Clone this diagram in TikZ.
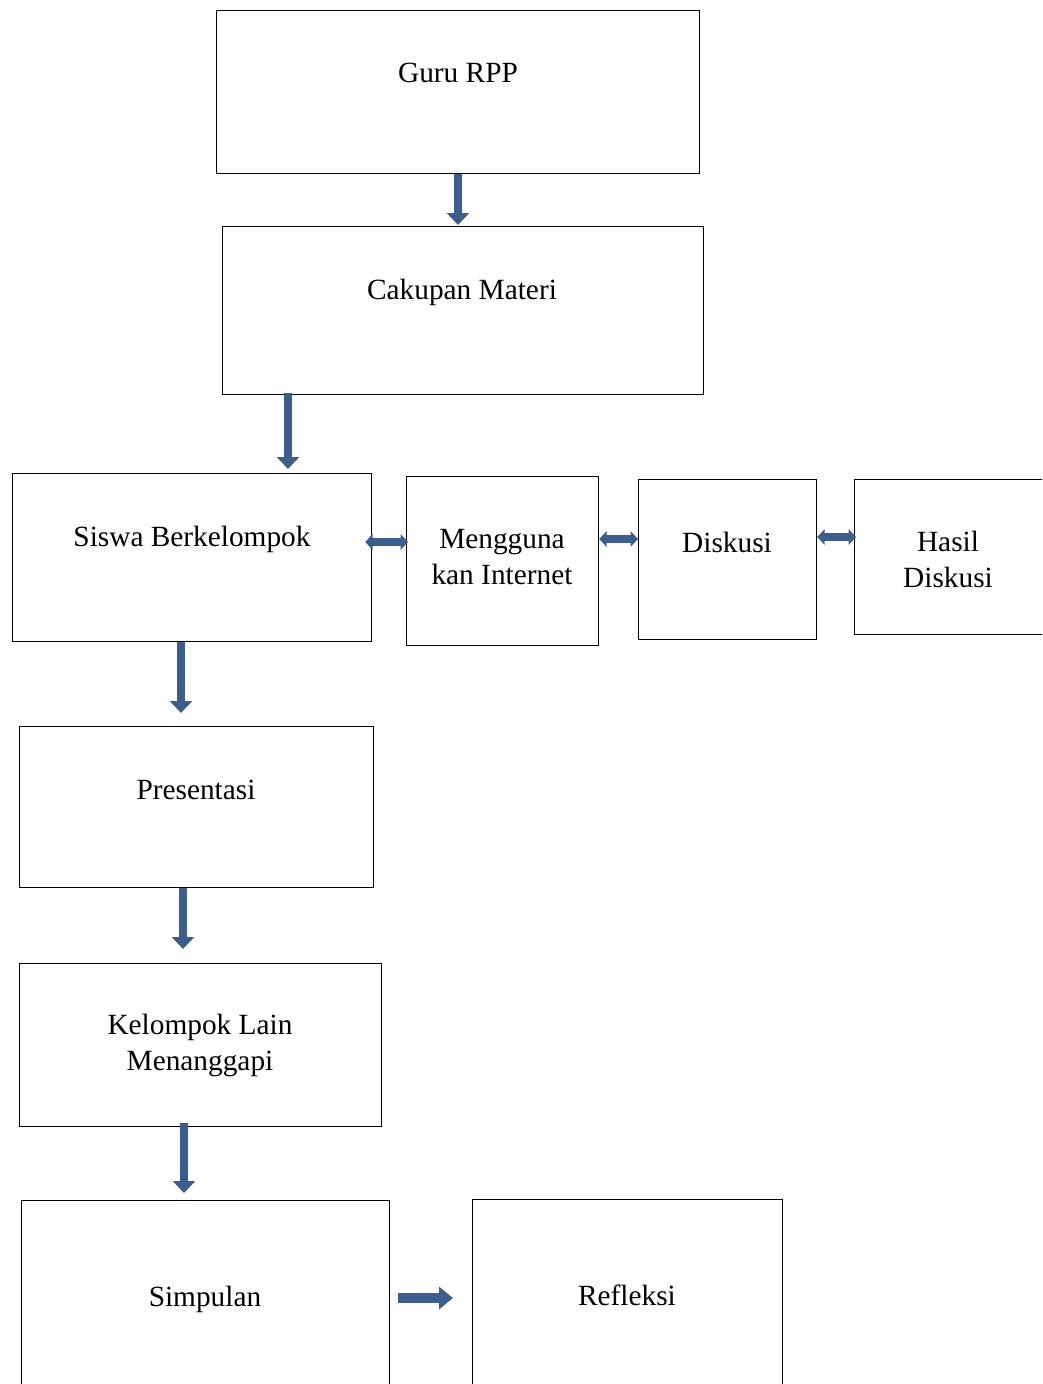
\documentclass[tikz,border=0pt]{standalone}
\usepackage{fontspec}
\setmainfont{Liberation Serif}
\usetikzlibrary{arrows.meta,calc}
\definecolor{arrblue}{RGB}{59,94,141}
\begin{document}
\begin{tikzpicture}[x=0.75pt,y=-0.75pt,
  box/.style={draw=black,line width=0.9pt,inner sep=0pt,anchor=north west},
  txt/.style={font=\fontsize{22}{27}\selectfont,align=center,anchor=base,inner sep=0pt},
  downarrow/.style={draw=arrblue,line width=6pt,-{Triangle[width=16.5pt,length=9pt]}},
  rightarrow/.style={draw=arrblue,line width=7.5pt,-{Triangle[width=16.5pt,length=10.5pt]}},
  dblarrow/.style={draw=arrblue,line width=6pt,{Triangle[width=11.5pt,length=5.5pt]}-{Triangle[width=11.5pt,length=5.5pt]}}]
\useasboundingbox (0,0) rectangle (1042,1384);
\clip (0,0) rectangle (1042,1384);
% boxes
\node[box,minimum width=483*0.75pt,minimum height=163*0.75pt] (guru) at (216,10) {};
\node[box,minimum width=481*0.75pt,minimum height=168*0.75pt] (cakupan) at (222,226) {};
\node[box,minimum width=359*0.75pt,minimum height=168*0.75pt] (siswa) at (12,473) {};
\node[box,minimum width=192*0.75pt,minimum height=169*0.75pt] (internet) at (406,476) {};
\node[box,minimum width=178*0.75pt,minimum height=160*0.75pt] (diskusi) at (638,479) {};
\node[box,minimum width=220*0.75pt,minimum height=155*0.75pt] (hasil) at (854,479) {};
\node[box,minimum width=354*0.75pt,minimum height=161*0.75pt] (presentasi) at (19,726) {};
\node[box,minimum width=362*0.75pt,minimum height=163*0.75pt] (kelompok) at (19,963) {};
\node[box,minimum width=368*0.75pt,minimum height=220*0.75pt] (simpulan) at (21,1200) {};
\node[box,minimum width=310*0.75pt,minimum height=220*0.75pt] (refleksi) at (472,1199) {};
% texts
\node[txt] (tguru) at (458,83) {Guru RPP};
\node[txt] (tcakupan) at (462,299) {Cakupan Materi};
\node[txt] (tsiswa) at (192,546) {Siswa Berkelompok};
\node[txt] (tinternet) at (502,584) {Mengguna\\kan Internet};
\node[txt] (tdiskusi) at (727,552) {Diskusi};
\node[txt] (thasil) at (948,587) {Hasil\\Diskusi};
\node[txt] (tpresentasi) at (196,799) {Presentasi};
\node[txt] (tkelompok) at (200,1070) {Kelompok Lain\\Menanggapi};
\node[txt] (tsimpulan) at (205,1306) {Simpulan};
\node[txt] (trefleksi) at (627,1305) {Refleksi};
% arrows
\draw[downarrow] ($(guru.south west)+(242,0)$) -- ($(cakupan.north west)+(236,-1)$);
\draw[downarrow] ($(cakupan.south west)+(66,-2)$) -- ($(siswa.north west)+(276,-4)$);
\draw[downarrow] ($(siswa.south west)+(169,0)$) -- ($(presentasi.north west)+(162,-13)$);
\draw[downarrow] ($(presentasi.south west)+(164,0)$) -- ($(kelompok.north west)+(164,-14)$);
\draw[downarrow] ($(kelompok.south west)+(165,-4)$) -- ($(simpulan.north west)+(163,-7)$);
\draw[rightarrow] ($(simpulan.north east)+(8,98)$) -- ($(refleksi.north west)+(-19,99)$);
\draw[dblarrow] ($(siswa.north east)+(-7,69)$) -- ($(internet.north west)+(2,66)$);
\draw[dblarrow] ($(internet.north east)+(0,63)$) -- ($(diskusi.north west)+(0,60)$);
\draw[dblarrow] ($(diskusi.north east)+(0,58)$) -- ($(hasil.north west)+(2,58)$);
\end{tikzpicture}
\end{document}
